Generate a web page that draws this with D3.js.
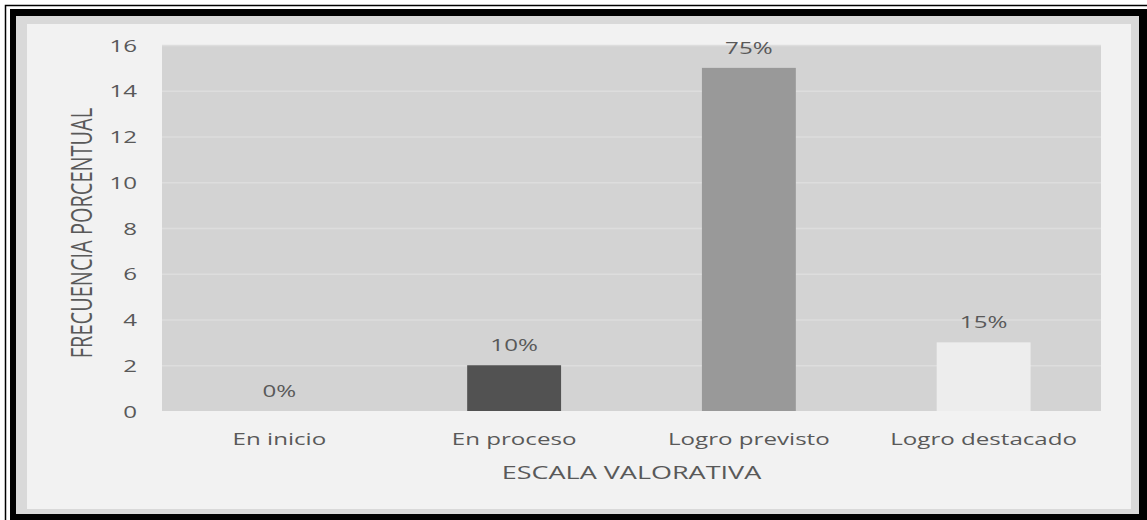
<!DOCTYPE html>
<html>
<head>
<meta charset="utf-8">
<script src="https://cdn.jsdelivr.net/npm/d3@7"></script>
<style>
  body { margin: 0; background: #ffffff; }
  svg { display: block; }
  text { font-family: "Open Sans", sans-serif; fill: #595959; }
</style>
</head>
<body>
<div id="chart"></div>
<script>
// data
var categories = ["En inicio", "En proceso", "Logro previsto", "Logro destacado"];
var values = [0, 2, 15, 3];
var labels = ["0%", "10%", "75%", "15%"];
var barColors = ["#7f7f7f", "#525252", "#999999", "#ededed"];
var yTicks = [0, 2, 4, 6, 8, 10, 12, 14, 16];

var W = 1147, H = 520;
var margin = {top: 45, right: 46, bottom: 109, left: 162},
    width = W - margin.left - margin.right,
    height = H - margin.top - margin.bottom;

var sx = 1.42; // the picture is stretched sideways

var svg = d3.select("#chart").append("svg")
    .attr("width", W)
    .attr("height", H);

// frame
svg.append("rect").attr("width", W).attr("height", H).attr("fill", "#ffffff");
svg.append("rect")
    .attr("x", 5.5).attr("y", 5.5)
    .attr("width", W).attr("height", H)
    .attr("fill", "none").attr("stroke", "#000").attr("stroke-width", 1.5);
svg.append("rect")
    .attr("x", 10).attr("y", 9)
    .attr("width", W - 10).attr("height", H - 9)
    .attr("fill", "#000");
svg.append("rect")
    .attr("x", 16).attr("y", 16)
    .attr("width", 1139 - 16).attr("height", 514 - 16)
    .attr("fill", "#d9d9d9");
svg.append("rect")
    .attr("x", 27).attr("y", 24)
    .attr("width", 1131 - 27).attr("height", 509 - 24)
    .attr("fill", "#f2f2f2");

var g = svg.append("g")
    .attr("transform", "translate(" + margin.left + "," + margin.top + ")");

g.append("rect")
    .attr("width", width)
    .attr("height", height)
    .attr("fill", "#d3d3d3");

var x = d3.scaleBand()
    .domain(categories)
    .range([0, width])
    .paddingInner(0.6)
    .paddingOuter(0.3);

var y = d3.scaleLinear()
    .domain([0, 16])
    .range([height, 0]);

// gridlines + y labels
var yAxis = g.append("g")
    .call(d3.axisLeft(y).tickValues(yTicks).tickSize(-width).tickFormat(d3.format("d")));
yAxis.select(".domain").remove();
yAxis.selectAll("line")
    .attr("stroke", function(d) { return d === 0 ? "none" : "#dddddd"; })
    .attr("stroke-width", 1.5);
yAxis.selectAll("text")
    .attr("x", null).attr("dy", "0.36em")
    .attr("text-anchor", "end")
    .attr("transform", "translate(-25,0) scale(" + sx + ",1)")
    .style("font-size", "17px")
    .style("fill", "#595959");

// bars
g.selectAll(".bar")
    .data(values)
  .enter().append("rect")
    .attr("class", "bar")
    .attr("x", function(d, i) { return x(categories[i]); })
    .attr("y", function(d) { return y(d); })
    .attr("width", x.bandwidth())
    .attr("height", function(d) { return height - y(d); })
    .attr("fill", function(d, i) { return barColors[i]; });

// data labels
g.selectAll(".lbl")
    .data(values)
  .enter().append("text")
    .attr("class", "lbl")
    .attr("text-anchor", "middle")
    .attr("transform", function(d, i) {
      return "translate(" + (x(categories[i]) + x.bandwidth() / 2) + "," + (y(d) - 14) + ") scale(" + sx + ",1)";
    })
    .style("font-size", "17px")
    .text(function(d, i) { return labels[i]; });

// category labels
var xAxis = g.append("g")
    .attr("transform", "translate(0," + height + ")")
    .call(d3.axisBottom(x).tickSize(0));
xAxis.select(".domain").remove();
xAxis.selectAll("text")
    .attr("y", null).attr("dy", null)
    .attr("transform", "translate(0,34) scale(" + sx + ",1)")
    .style("font-size", "17px")
    .style("fill", "#595959");

// axis titles
g.append("text")
    .attr("text-anchor", "middle")
    .attr("transform", "translate(" + (width / 2) + "," + (height + 68) + ") scale(" + sx + ",1)")
    .style("font-size", "19px")
    .text("ESCALA VALORATIVA");

g.append("text")
    .attr("text-anchor", "middle")
    .attr("transform", "translate(-70," + (height / 2 + 5) + ") scale(" + sx + ",1) rotate(-90)")
    .style("font-size", "20px")
    .text("FRECUENCIA PORCENTUAL");
</script>
</body>
</html>
